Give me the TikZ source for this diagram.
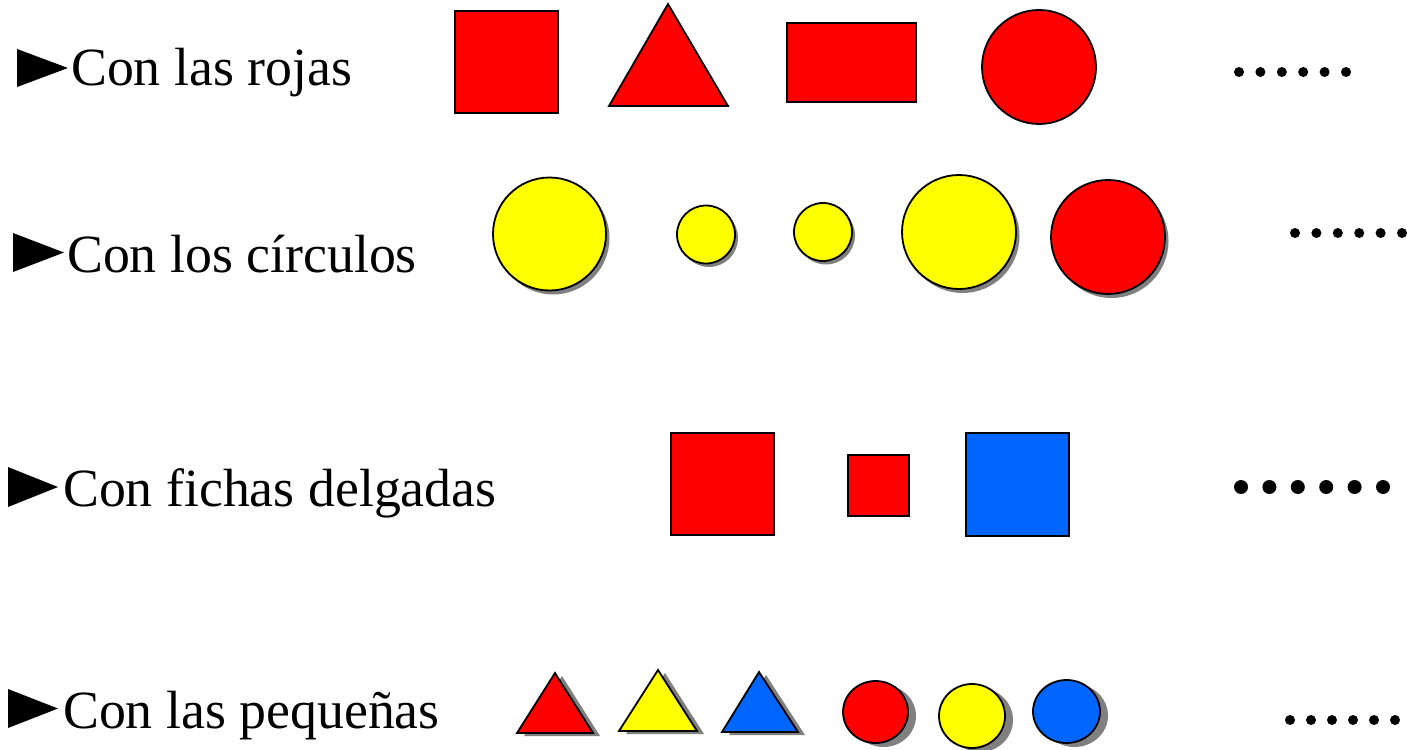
\documentclass[tikz,border=0pt]{standalone}
\usepackage{fontspec}
\setmainfont{Liberation Serif}
\newfontfamily\letraserif{Liberation Serif}
\usetikzlibrary{positioning}

\definecolor{rojo}{RGB}{255,0,0}
\definecolor{amarillo}{RGB}{255,255,0}
\definecolor{azul}{RGB}{0,102,255}
\definecolor{sombragris}{RGB}{128,128,128}

\begin{document}
\begin{tikzpicture}[
  x=1pt, y=-1pt,
  ficha/.style={draw=black, line width=1.8pt, line join=miter},
  sombra/.style={fill=sombragris},
  texto/.style={anchor=base west, inner sep=0pt, font=\letraserif\fontsize{53.8}{60}\selectfont},
  punto/.style={fill=black}
]
  \useasboundingbox (0,0) rectangle (1407,749);

  % vinetas y textos
  \fill (17,49) -- (68,68) -- (17,87) -- cycle;
  \node[texto] (rojas) at (71,86) {Con las rojas};
  \fill (13,233) -- (64,252.5) -- (13,272) -- cycle;
  \node[texto] (circulos) at (67,272) {Con los círculos};
  \fill (8,467) -- (58,487) -- (8,507) -- cycle;
  \node[texto] (delgadas) at (63,506) {Con fichas delgadas};
  \fill (8,689) -- (58,708.5) -- (8,728) -- cycle;
  \node[texto] (pequenas) at (63,728) {Con las pequeñas};

  % fila 1: las rojas
  \filldraw[ficha, fill=rojo] (455,11) rectangle (558,113);
  \filldraw[ficha, fill=rojo] (668,4) -- (728,106) -- (609,106) -- cycle;
  \filldraw[ficha, fill=rojo] (787,23) rectangle (916,102);
  \filldraw[ficha, fill=rojo] (1039,67) circle (57);
  \foreach \i in {0,...,5}
    \fill[punto] (1239+21.4*\i,72) circle (5);

  % fila 2: los circulos
  \fill[sombra] (553,238) circle (56.5);
  \filldraw[ficha, fill=amarillo] (549.5,234) circle (56.5);
  \fill[sombra] (709,238) circle (29);
  \filldraw[ficha, fill=amarillo] (706,234.5) circle (29);
  \fill[sombra] (826,235.5) circle (29);
  \filldraw[ficha, fill=amarillo] (823,232) circle (29);
  \fill[sombra] (962.5,236) circle (57);
  \filldraw[ficha, fill=amarillo] (959,232) circle (57);
  \fill[sombra] (1111.5,241) circle (57);
  \filldraw[ficha, fill=rojo] (1108,237) circle (57);
  \foreach \i in {0,...,5}
    \fill[punto] (1295+21.4*\i,233) circle (5);

  % fila 3: fichas delgadas
  \filldraw[ficha, fill=rojo] (671,433) rectangle (774,535);
  \filldraw[ficha, fill=rojo] (848,455) rectangle (909,516);
  \filldraw[ficha, fill=azul] (966,433) rectangle (1069,536);
  \foreach \i in {0,...,5}
    \fill[punto] (1241+28.4*\i,487) circle (7);

  % fila 4: las pequenas
  \fill[sombra] (562,676) -- (600,736) -- (524,736) -- cycle;
  \filldraw[ficha, fill=rojo] (555,673) -- (593,733) -- (517,733) -- cycle;
  \fill[sombra] (665,673) -- (704,734) -- (626,734) -- cycle;
  \filldraw[ficha, fill=amarillo] (658,670) -- (697,731) -- (619,731) -- cycle;
  \fill[sombra] (766,675) -- (805,735) -- (729,735) -- cycle;
  \filldraw[ficha, fill=azul] (759,672) -- (798,732) -- (722,732) -- cycle;
  \fill[sombra] (883.5,716) ellipse (32.5 and 31);
  \filldraw[ficha, fill=rojo] (875.5,712) ellipse (32.5 and 31);
  \fill[sombra] (980,720) ellipse (33 and 32);
  \filldraw[ficha, fill=amarillo] (972,716) ellipse (33 and 32);
  \fill[sombra] (1074.5,715.5) ellipse (33.5 and 31.5);
  \filldraw[ficha, fill=azul] (1066.5,711.5) ellipse (33.5 and 31.5);
  \foreach \i in {0,...,5}
    \fill[punto] (1290+21*\i,720) circle (5);
\end{tikzpicture}
\end{document}
